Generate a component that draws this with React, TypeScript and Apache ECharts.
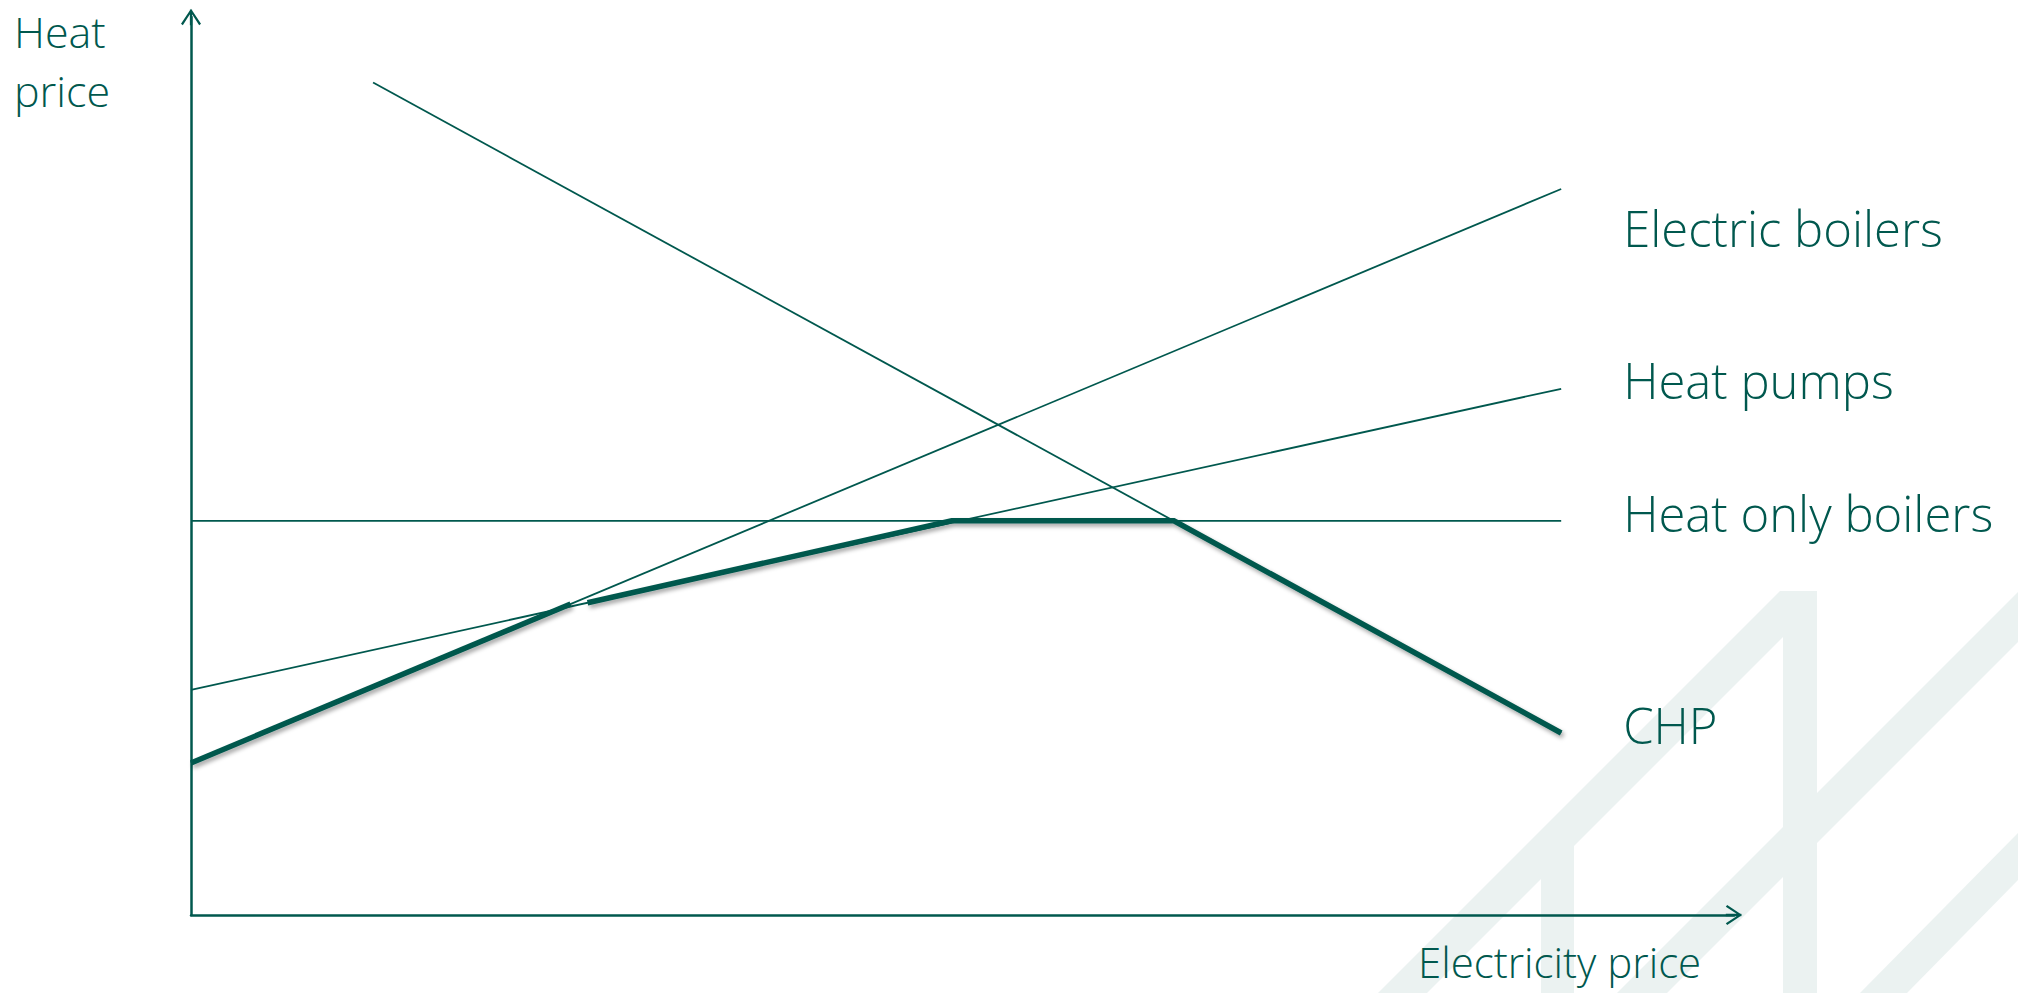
import React, { useEffect, useRef } from "react";
import * as echarts from "echarts";

// ---- data (abstract price units, axis range 0..100) ----
const xRange = [0, 100];
const yRange = [0, 100];

const electricBoilers: [number, number][] = [[0, 16.93], [88.8, 80.85]];
const heatPumps: [number, number][] = [[0, 25.06], [88.8, 58.6]];
const heatOnlyBoilers: [number, number][] = [[0, 43.9], [88.8, 43.9]];
const chp: [number, number][] = [[11.8, 92.7], [88.8, 20.27]];
// lowest-cost envelope (thick line), drawn in two pieces
const envelopeA: [number, number][] = [[0, 16.93], [24.6, 34.64]];
const envelopeB: [number, number][] = [[25.7, 34.77], [49.3, 43.9], [63.7, 43.9], [88.8, 20.27]];

const seriesNames = ["Electric boilers", "Heat pumps", "Heat only boilers", "CHP"];
const yTitleLines = ["Heat", "price"];
const xTitle = "Electricity price";

const TEAL = "#00584E";
const WATERMARK = "#EBF2F1";
const FONT = "'Open Sans', Lato, sans-serif";

const ARROW =
  "path://M11,0 L22,16.5 L20,18 L11,4 L2,18 L0,16.5 Z M9.75,1 L12.25,1 L12.25,18 L9.75,18 Z";

export default function App() {
  const ref = useRef<HTMLDivElement>(null);

  useEffect(() => {
    if (!ref.current) return;
    const chart = echarts.init(ref.current, null, { renderer: "svg" });

    const thin = (name: string, data: [number, number][], dy: number) => ({
      name,
      type: "line",
      data,
      symbol: "none",
      showSymbol: false,
      silent: true,
      z: 3,
      lineStyle: { color: TEAL, width: 1.8 },
      endLabel: {
        show: true,
        formatter: (p: any) => p.seriesName,
        color: TEAL,
        fontFamily: FONT,
        fontWeight: 300,
        fontSize: 49,
        distance: 0,
        offset: [62, dy],
        align: "left",
        verticalAlign: "middle",
      },
    });

    const thick = (data: [number, number][]) => ({
      name: "Envelope",
      type: "line",
      data,
      symbol: "none",
      showSymbol: false,
      silent: true,
      z: 5,
      lineStyle: {
        color: TEAL,
        width: 5.5,
        cap: "butt",
        join: "miter",
        shadowColor: "rgba(0,0,0,0.35)",
        shadowBlur: 4,
        shadowOffsetX: 2,
        shadowOffsetY: 3,
      },
    });

    const axisLine = {
      show: true,
      onZero: false,
      symbol: ["none", ARROW],
      symbolSize: [20, 18],
      lineStyle: { color: TEAL, width: 2.5 },
    };

    const titleText = (text: string, x: number, y: number, size: number) => ({
      type: "text",
      x,
      y,
      z: 10,
      silent: true,
      style: {
        text,
        fill: TEAL,
        font: `300 ${size}px ${FONT}`,
        align: "left",
        verticalAlign: "middle",
      },
    });

    chart.setOption({
      animation: false,
      backgroundColor: "#ffffff",
      grid: { left: 191, right: 284, top: 17, bottom: 78, containLabel: false },
      xAxis: {
        type: "value",
        min: xRange[0],
        max: xRange[1],
        axisLine,
        axisTick: { show: false },
        axisLabel: { show: false },
        splitLine: { show: false },
      },
      yAxis: {
        type: "value",
        min: yRange[0],
        max: yRange[1],
        axisLine,
        axisTick: { show: false },
        axisLabel: { show: false },
        splitLine: { show: false },
      },
      graphic: [
        // watermark logo
        { type: "polygon", z: -10, silent: true, shape: { points: [[1378, 993], [1780, 591], [1783, 591], [1783, 637], [1427, 993]] }, style: { fill: WATERMARK } },
        { type: "rect", z: -10, silent: true, shape: { x: 1783, y: 591, width: 34, height: 402 }, style: { fill: WATERMARK } },
        { type: "rect", z: -10, silent: true, shape: { x: 1541, y: 846, width: 33, height: 147 }, style: { fill: WATERMARK } },
        { type: "polygon", z: -10, silent: true, shape: { points: [[1617, 993], [2018, 592], [2018, 642], [1667, 993]] }, style: { fill: WATERMARK } },
        { type: "polygon", z: -10, silent: true, shape: { points: [[1860, 993], [2018, 833], [2018, 880], [1907, 993]] }, style: { fill: WATERMARK } },
        // axis titles
        titleText(yTitleLines[0], 14, 31, 43),
        titleText(yTitleLines[1], 14, 90, 43),
        titleText(xTitle, 1418, 961, 42),
      ],
      series: [
        thin(seriesNames[0], electricBoilers, 39),
        thin(seriesNames[1], heatPumps, -9),
        thin(seriesNames[2], heatOnlyBoilers, -8),
        thin(seriesNames[3], chp, -7.5),
        thick(envelopeA),
        thick(envelopeB),
      ],
    });

    return () => chart.dispose();
  }, []);

  return (
    <div
      ref={ref}
      style={{ position: "fixed", left: 0, top: 0, width: "2018px", height: "993px" }}
    />
  );
}
